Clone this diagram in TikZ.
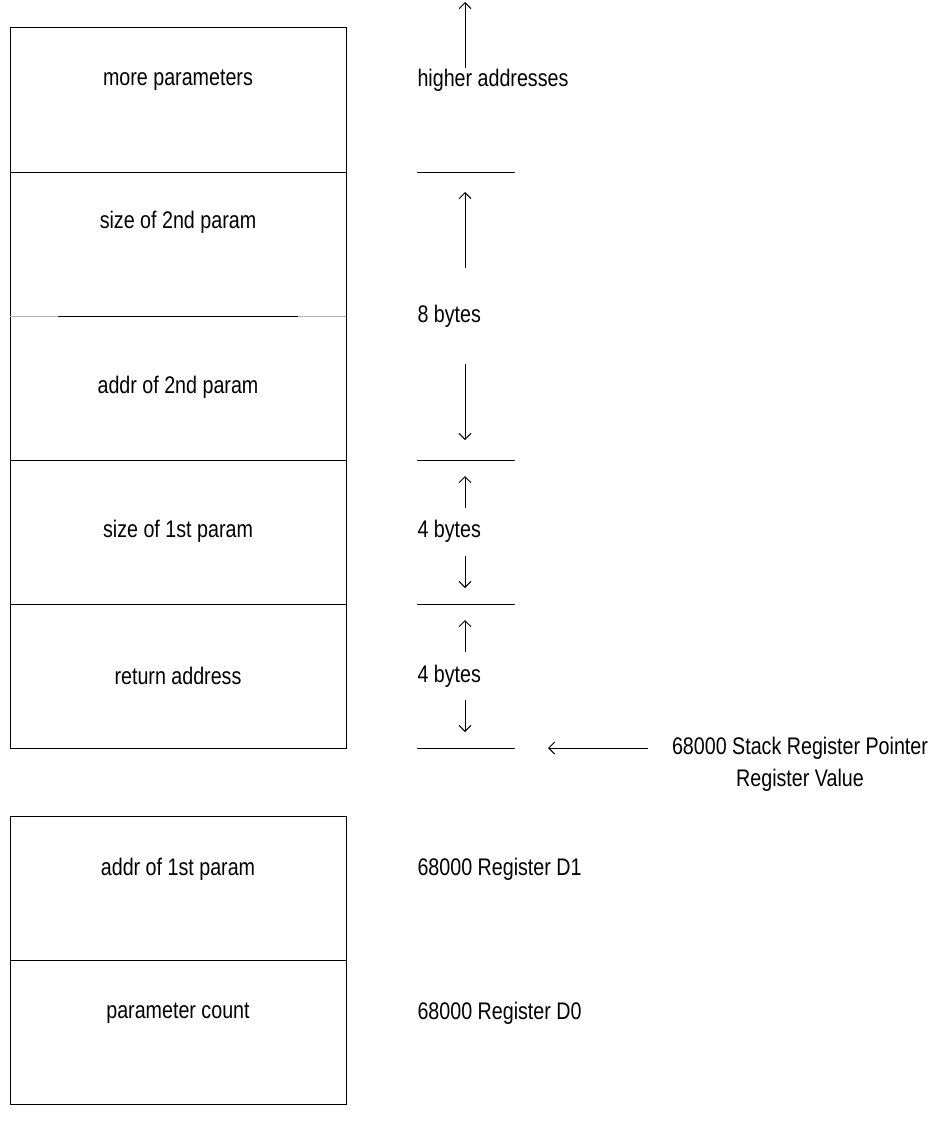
\documentclass[tikz,border=0pt]{standalone}
\usepackage{fontspec}
\setmainfont[FakeStretch=0.82]{Liberation Sans}
\usetikzlibrary{arrows.meta}

\begin{document}
\begin{tikzpicture}[x=1pt, y=-1pt, line width=1pt,
	every node/.style={font=\fontsize{24}{32}\selectfont, inner sep=0pt},
	arr/.style={-{Straight Barb[length=6pt,width=12pt]}},
	lbl/.style={anchor=west}]
	\useasboundingbox (0,0) rectangle (946,1130);

	% stack frame
	\draw (10,27) rectangle (346,748);
	\draw (10,172) -- (346,172);
	\draw[gray!60] (10,316) -- (346,316);
	\draw (58,316) -- (298,316);
	\draw (10,460) -- (346,460);
	\draw (10,604) -- (346,604);

	\node (more) at (178,80) {more parameters};
	\node (size2) at (178,222) {size of 2nd param};
	\node (addr2) at (178,387) {addr of 2nd param};
	\node (size1) at (178,531) {size of 1st param};
	\node (ret) at (178,676) {return address};

	% registers
	\draw (10,816) rectangle (346,1104);
	\draw (10,960) -- (346,960);
	\node (addr1) at (178,869) {addr of 1st param};
	\node (count) at (178,1013) {parameter count};
	\node[lbl] (d1) at (417,869) {68000 Register D1};
	\node[lbl] (d0) at (417,1013) {68000 Register D0};

	% address marks
	\draw (417,172) -- (515,172);
	\draw (417,460) -- (515,460);
	\draw (417,604) -- (515,604);
	\draw (417,748) -- (515,748);

	\node[lbl] (high) at (417,80) {higher addresses};
	\node[lbl] (eight) at (417,316) {8 bytes};
	\node[lbl] (fourA) at (417,531) {4 bytes};
	\node[lbl] (fourB) at (417,676) {4 bytes};

	\coordinate (h0) at (465,68);
	\coordinate (h1) at (465,2);
	\coordinate (e0) at (465,268);
	\coordinate (e1) at (465,192);
	\coordinate (e2) at (465,364);
	\coordinate (e3) at (465,440);
	\coordinate (a0) at (465,508);
	\coordinate (a1) at (465,476);
	\coordinate (a2) at (465,556);
	\coordinate (a3) at (465,588);
	\coordinate (b0) at (465,652);
	\coordinate (b1) at (465,620);
	\coordinate (b2) at (465,700);
	\coordinate (b3) at (465,732);

	\draw[arr] (h0) -- (h1);
	\draw[arr] (e0) -- (e1);
	\draw[arr] (e2) -- (e3);
	\draw[arr] (a0) -- (a1);
	\draw[arr] (a2) -- (a3);
	\draw[arr] (b0) -- (b1);
	\draw[arr] (b2) -- (b3);

	% stack pointer
	\node[align=center] (sp) at (800,764) {68000 Stack Register Pointer\\Register Value};
	\coordinate (s0) at (648,748);
	\coordinate (s1) at (548,748);
	\draw[arr] (s0) -- (s1);
\end{tikzpicture}
\end{document}
